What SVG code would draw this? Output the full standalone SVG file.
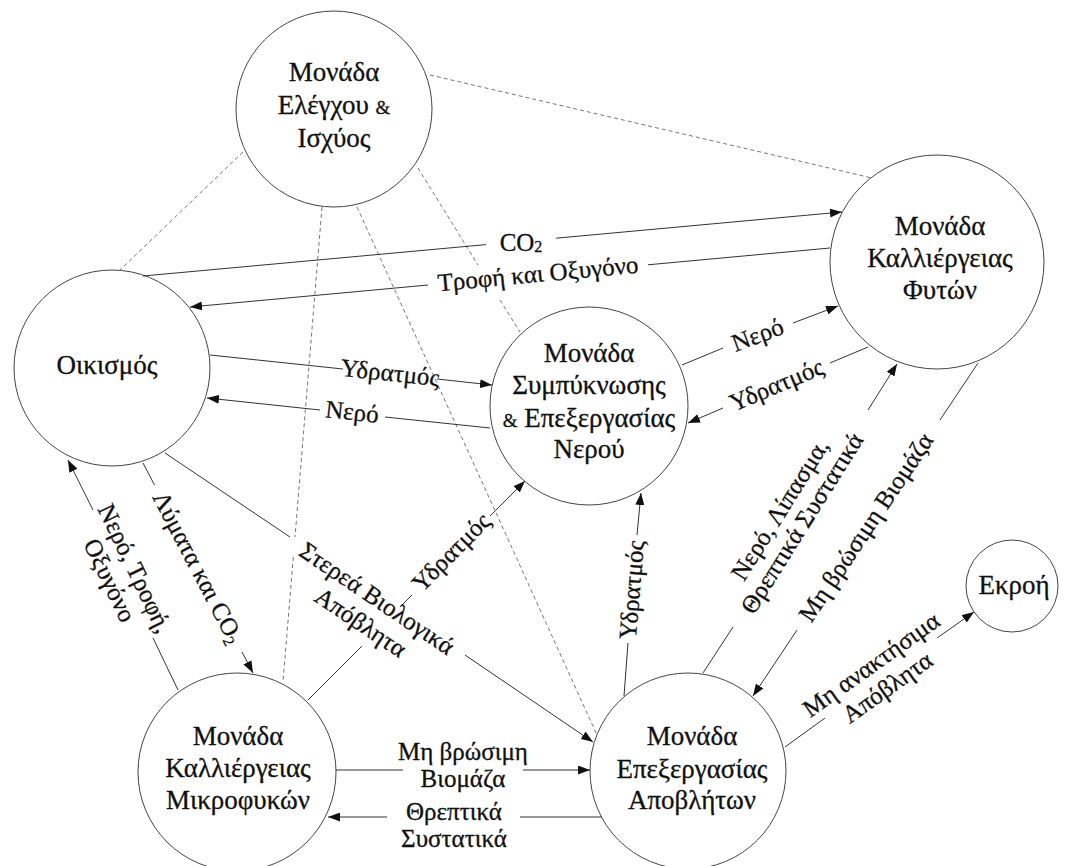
<svg xmlns="http://www.w3.org/2000/svg" width="1071" height="866" viewBox="0 0 1071 866">
  <defs>
    <marker id="ah" viewBox="0 0 12 9" refX="12" refY="4.5" markerWidth="12" markerHeight="9" markerUnits="userSpaceOnUse" orient="auto">
      <path d="M0,0 L12,4.5 L0,9 z" fill="#111"/>
    </marker>
    <style>
      .node circle { fill: #fff; stroke: #444; stroke-width: 1; }
      .nt { font-family: "Liberation Serif", "DejaVu Serif", serif; font-size: 27px; fill: #111; stroke: #111; stroke-width: 0.3; text-anchor: middle; }
      .amp { font-size: 19px; }
      .flow { fill: none; stroke: #333; stroke-width: 1; }
      .flow .arr { marker-end: url(#ah); }
      .ctl { fill: none; stroke: #666; stroke-width: 0.9; stroke-dasharray: 4 3; }
      .lt { font-family: "Liberation Serif", "DejaVu Serif", serif; font-size: 25px; fill: #111; stroke: #111; stroke-width: 0.3; text-anchor: middle; }
      .sub { font-size: 16px; }
    </style>
  </defs>
  <rect width="1071" height="866" fill="#fff"/>

  <!-- units -->
  <g id="node-control" class="node">
    <circle cx="334" cy="109" r="98"/>
    <text class="nt" x="334" y="81">Μονάδα</text>
    <text class="nt" x="334" y="114">Ελέγχου <tspan class="amp">&amp;</tspan></text>
    <text class="nt" x="334" y="147">Ισχύος</text>
  </g>
  <g id="node-plants" class="node">
    <circle cx="937" cy="262" r="107"/>
    <text class="nt" x="940" y="235">Μονάδα</text>
    <text class="nt" x="940" y="267">Καλλιέργειας</text>
    <text class="nt" x="940" y="299">Φυτών</text>
  </g>
  <g id="node-settlement" class="node">
    <circle cx="112" cy="368" r="98"/>
    <text class="nt" x="107" y="374">Οικισμός</text>
  </g>
  <g id="node-water" class="node">
    <circle cx="589" cy="406" r="99"/>
    <text class="nt" x="589" y="362">Μονάδα</text>
    <text class="nt" x="589" y="394">Συμπύκνωσης</text>
    <text class="nt" x="589" y="427"><tspan class="amp">&amp;</tspan> Επεξεργασίας</text>
    <text class="nt" x="589" y="458">Νερού</text>
  </g>
  <g id="node-algae" class="node">
    <circle cx="237" cy="772" r="99"/>
    <text class="nt" x="238" y="745">Μονάδα</text>
    <text class="nt" x="238" y="777">Καλλιέργειας</text>
    <text class="nt" x="238" y="809">Μικροφυκών</text>
  </g>
  <g id="node-waste" class="node">
    <circle cx="688" cy="771" r="98"/>
    <text class="nt" x="692" y="745">Μονάδα</text>
    <text class="nt" x="692" y="778">Επεξεργασίας</text>
    <text class="nt" x="692" y="809">Αποβλήτων</text>
  </g>
  <g id="node-outflow" class="node">
    <circle cx="1012" cy="586" r="46"/>
    <text class="nt" x="1014" y="594">Εκροή</text>
  </g>

  <!-- connectors -->
  <g id="connectors">
    <g class="ctl-lines">
      <path class="ctl" d="M243,152 L120,270"/>
      <path class="ctl" d="M430,75 L872,178"/>
      <path class="ctl" d="M418,168 L478,265 M500,300 L520,332"/>
      <path class="ctl" d="M322,207 L295,537 M293.3,557 L283,682"/>
      <path class="ctl" d="M357,207 L597,735"/>
    </g>
    <g class="flow">
      <path class="arr" d="M143,276 L486,244.6 M556,238.2 L842,212"/>
      <path class="arr" d="M830,248 L648,264.8 M428,285 L190,307"/>
      <path class="arr" d="M210,355 L343,369 M437,379 L492,385"/>
      <path class="arr" d="M490,428 L385,417 M320,410 L207,398"/>
      <path class="arr" d="M682,365 L723,348 M793,323 L838,306"/>
      <path class="arr" d="M868,347 L830,363 M723,408 L688,423"/>
      <path class="arr" d="M178,690 L153,638 M93,510 L68,460"/>
      <path class="arr" d="M143,463 L154.5,485 M242,652 L253,673"/>
      <path class="arr" d="M165,453 L290,537 M465,655 L593,742"/>
      <path class="arr" d="M308,700 L362,646 M400,607 L412,595 M490,516 L525,481"/>
      <path class="arr" d="M624,696 L628,643 M637,535 L641,493"/>
      <path class="arr" d="M703,673 L733,627 M868,410 L897,364"/>
      <path class="arr" d="M978,363 L940,420 M797,630 L753,696"/>
      <path class="arr" d="M785,747 L825,718 M937,638 L974,612"/>
      <path class="arr" d="M336,770 L403,770 M523,770 L590,770"/>
      <path class="arr" d="M602,817 L520,817 M387,817 L328,817"/>
    </g>
  </g>

  <!-- flow labels -->
  <g id="labels">
    <text class="lt" x="521" y="251">CO<tspan class="sub" dy="1">2</tspan></text>
    <text class="lt" transform="translate(538,275) rotate(-5.3)" y="7">Τροφή και Οξυγόνο</text>
    <text class="lt" transform="translate(390,374) rotate(6.1)" y="7">Υδρατμός</text>
    <text class="lt" transform="translate(352,413) rotate(6)" y="7">Νερό</text>
    <text class="lt" transform="translate(758,336) rotate(-20.8)" y="7">Νερό</text>
    <text class="lt" transform="translate(777,386) rotate(-22.9)" y="7">Υδρατμός</text>
    <g transform="translate(123,574) rotate(64.4)">
      <text class="lt" y="-5">Νερό, Τροφή,</text>
      <text class="lt" y="23">Οξυγόνο</text>
    </g>
    <text class="lt" transform="translate(197,568) rotate(62.4)" y="7">Λύματα και CO<tspan class="sub" dy="4">2</tspan></text>
    <g transform="translate(378,597) rotate(34)">
      <text class="lt" y="10">Στερεά Βιολογικά</text>
      <text class="lt" y="39">Απόβλητα</text>
    </g>
    <text class="lt" transform="translate(452,553) rotate(-45.3)" y="7">Υδρατμός</text>
    <text class="lt" transform="translate(633,590) rotate(-85.2)" y="7">Υδρατμός</text>
    <g transform="translate(792,517) rotate(-57.9)">
      <text class="lt" y="-6">Νερό, Λίπασμα,</text>
      <text class="lt" y="20">Θρεπτικά Συστατικά</text>
    </g>
    <text class="lt" transform="translate(867,528) rotate(-56.2)" y="7">Μη βρώσιμη Βιομάζα</text>
    <g transform="translate(880,677) rotate(-35.5)">
      <text class="lt" y="-7">Μη ανακτήσιμα</text>
      <text class="lt" y="21">Απόβλητα</text>
    </g>
    <text class="lt" x="463" y="760">Μη βρώσιμη</text>
    <text class="lt" x="463" y="787">Βιομάζα</text>
    <text class="lt" x="454" y="820">Θρεπτικά</text>
    <text class="lt" x="454" y="847">Συστατικά</text>
  </g>
</svg>
